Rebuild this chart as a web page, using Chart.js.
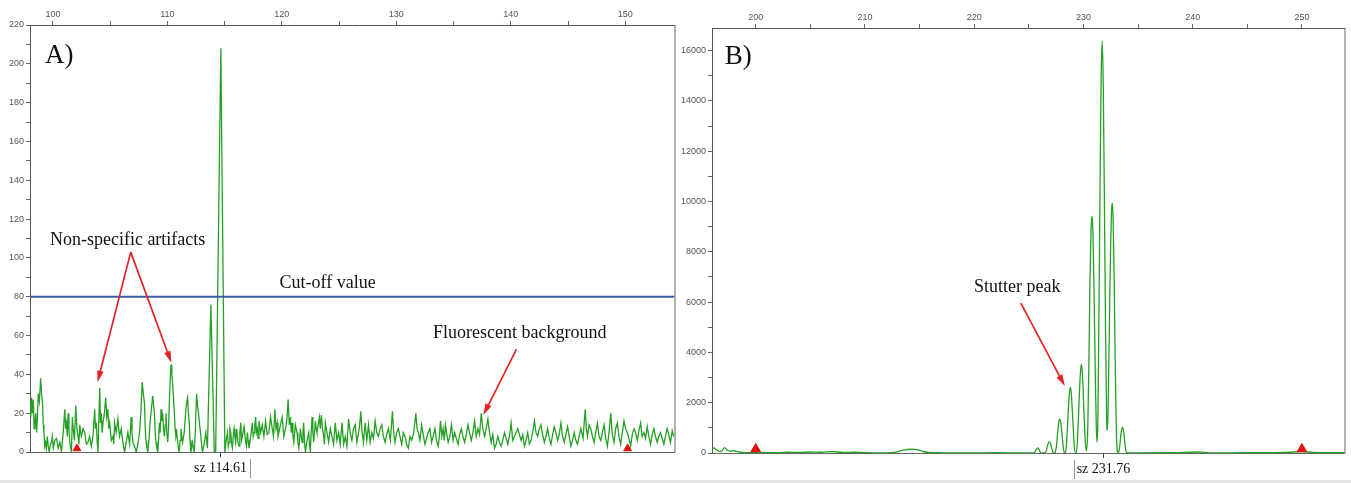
<!DOCTYPE html>
<html>
<head>
<meta charset="utf-8">
<script src="https://cdn.jsdelivr.net/npm/chart.js@4/dist/chart.umd.min.js"></script>
<style>
  body { margin: 0; background: #fff; }
  #wrap { position: relative; width: 1351px; height: 483px; overflow: hidden; }
  canvas { position: absolute; top: 0; }
  #chartA { left: 0; }
  #chartB { left: 680px; }
  #strip { position: absolute; left: 0; bottom: 0; width: 1351px; height: 3px; background: #e6e6e6; }
</style>
</head>
<body>
<div id="wrap">
  <canvas id="chartA" width="680" height="483"></canvas>
  <canvas id="chartB" width="671" height="483"></canvas>
  <div id="strip"></div>
</div>
<script>
// panel A: size (bp) and signal (RFU)
const aSizes = [
  98.00, 98.07, 98.14, 98.21, 98.29, 98.36, 98.43, 98.50, 98.58, 98.65,
  98.72, 98.82, 98.93, 99.01, 99.10, 99.16, 99.22, 99.29, 99.36, 99.43,
  99.51, 99.59, 99.68, 99.78, 99.88, 99.95, 100.03, 100.17, 100.32, 100.46,
  100.61, 100.68, 100.75, 100.90, 101.04, 101.11, 101.19, 101.26, 101.33, 101.40,
  101.48, 101.55, 101.62, 101.70, 101.77, 101.88, 102.00, 102.10, 102.20, 102.27,
  102.35, 102.42, 102.49, 102.63, 102.78, 102.92, 103.07, 103.21, 103.36, 103.50,
  103.65, 103.72, 103.80, 103.87, 103.94, 104.09, 104.16, 104.23, 104.30, 104.38,
  104.50, 104.61, 104.71, 104.81, 104.88, 104.96, 105.10, 105.25, 105.32, 105.39,
  105.53, 105.68, 105.75, 105.83, 105.97, 106.12, 106.19, 106.26, 106.40, 106.55,
  106.70, 106.84, 106.91, 106.99, 107.13, 107.28, 107.42, 107.57, 107.68, 107.80,
  107.90, 108.00, 108.07, 108.14, 108.21, 108.29, 108.39, 108.49, 108.60, 108.72,
  108.80, 108.87, 108.94, 109.01, 109.08, 109.16, 109.23, 109.30, 109.37, 109.45,
  109.52, 109.59, 109.66, 109.74, 109.81, 109.88, 109.95, 110.03, 110.10, 110.17,
  110.25, 110.32, 110.39, 110.46, 110.53, 110.61, 110.68, 110.75, 110.82, 110.90,
  110.97, 111.04, 111.11, 111.19, 111.26, 111.33, 111.47, 111.62, 111.70, 111.77,
  111.84, 111.91, 111.98, 112.06, 112.13, 112.20, 112.27, 112.35, 112.45, 112.55,
  112.63, 112.72, 112.82, 112.93, 113.00, 113.07, 113.20, 113.36, 113.50, 113.80,
  114.10, 114.22, 114.67, 115.02, 115.13, 115.25, 115.32, 115.39, 115.46, 115.54,
  115.61, 115.68, 115.75, 115.83, 115.90, 115.97, 116.05, 116.12, 116.19, 116.26,
  116.33, 116.41, 116.48, 116.55, 116.70, 116.84, 116.91, 116.99, 117.06, 117.13,
  117.28, 117.42, 117.50, 117.57, 117.64, 117.71, 117.78, 117.86, 117.93, 118.00,
  118.15, 118.29, 118.43, 118.58, 118.72, 118.87, 119.01, 119.16, 119.27, 119.39,
  119.49, 119.59, 119.66, 119.74, 119.88, 120.03, 120.17, 120.32, 120.43, 120.55,
  120.65, 120.75, 120.82, 120.90, 120.97, 121.04, 121.18, 121.33, 121.40, 121.48,
  121.55, 121.62, 121.70, 121.77, 121.84, 121.91, 121.98, 122.06, 122.20, 122.35,
  122.42, 122.49, 122.56, 122.64, 122.71, 122.78, 122.85, 122.93, 123.00, 123.07,
  123.17, 123.28, 123.36, 123.45, 123.55, 123.65, 123.72, 123.80, 123.94, 124.09,
  124.23, 124.38, 124.52, 124.67, 124.81, 124.96, 125.10, 125.25, 125.40, 125.54,
  125.68, 125.83, 125.97, 126.12, 126.26, 126.41, 126.55, 126.70, 126.80, 126.90,
  127.01, 127.13, 127.20, 127.28, 127.42, 127.57, 127.71, 127.86, 128.00, 128.15,
  128.29, 128.44, 128.58, 128.73, 128.87, 129.02, 129.16, 129.31, 129.48, 129.66,
  129.77, 129.89, 130.03, 130.18, 130.32, 130.47, 130.61, 130.76, 130.90, 131.05,
  131.19, 131.34, 131.52, 131.71, 131.81, 131.92, 132.06, 132.21, 132.35, 132.50,
  132.64, 132.79, 132.93, 133.08, 133.22, 133.37, 133.51, 133.66, 133.76, 133.86,
  133.97, 134.09, 134.19, 134.29, 134.41, 134.53, 134.67, 134.82, 134.96, 135.10,
  135.24, 135.39, 135.53, 135.68, 135.82, 135.97, 136.11, 136.26, 136.40, 136.55,
  136.69, 136.84, 136.98, 137.13, 137.27, 137.42, 137.56, 137.71, 137.85, 138.00,
  138.14, 138.29, 138.43, 138.58, 138.72, 138.87, 139.01, 139.16, 139.30, 139.45,
  139.59, 139.74, 139.88, 140.03, 140.17, 140.32, 140.46, 140.61, 140.75, 140.90,
  141.04, 141.19, 141.33, 141.48, 141.62, 141.77, 141.91, 142.06, 142.20, 142.35,
  142.49, 142.64, 142.78, 142.93, 143.07, 143.22, 143.36, 143.51, 143.65, 143.80,
  143.94, 144.09, 144.23, 144.38, 144.52, 144.67, 144.81, 144.96, 145.10, 145.25,
  145.39, 145.54, 145.68, 145.83, 145.97, 146.12, 146.31, 146.50, 146.60, 146.70,
  146.84, 146.99, 147.13, 147.28, 147.42, 147.57, 147.71, 147.86, 148.00, 148.15,
  148.29, 148.44, 148.58, 148.73, 148.87, 149.02, 149.16, 149.31, 149.45, 149.60,
  149.74, 149.89, 150.03, 150.18, 150.32, 150.47, 150.61, 150.76, 150.90, 151.05,
  151.19, 151.34, 151.48, 151.63, 151.77, 151.92, 152.06, 152.21, 152.35, 152.50,
  152.64, 152.79, 152.93, 153.08, 153.22, 153.37, 153.51, 153.66, 153.80, 153.95,
  154.10, 154.24
];
const aRfu = [
  25, 18, 28, 20, 27, 12, 15, 20, 10, 18,
  30, 26, 38, 30, 25, 14, 10, 3, 5, 2,
  8, 3, 0, 4, 5, 8, 2, 6, 7, 2,
  5, 3, 0, 10, 22, 12, 15, 8, 20, 12,
  5, 2, 0, 18, 12, 6, 24, 12, 8, 4,
  14, 10, 8, 12, 10, 4, 5, 8, 3, 8,
  22, 12, 15, 5, 0, 33, 15, 20, 10, 15,
  20, 28, 18, 22, 12, 15, 6, 8, 4, 15,
  10, 17, 12, 8, 12, 5, 2, 0, 5, 10,
  4, 18, 10, 5, 3, 0, 4, 10, 20, 36,
  30, 25, 12, 5, 2, 0, 6, 15, 22, 29,
  24, 20, 10, 5, 2, 0, 6, 15, 10, 22,
  16, 20, 12, 8, 14, 20, 10, 5, 12, 25,
  38, 45, 40, 35, 28, 20, 12, 8, 10, 5,
  2, 0, 6, 12, 8, 5, 10, 22, 26, 28,
  20, 15, 6, 0, 3, 5, 2, 0, 12, 30,
  24, 20, 14, 8, 3, 0, 4, 10, 2, 76,
  0, 0, 208, 0, 6, 10, 3, 5, 12, 10,
  4, 2, 8, 12, 8, 5, 12, 8, 4, 3,
  10, 15, 6, 8, 13, 5, 3, 10, 6, 2,
  8, 15, 8, 10, 14, 18, 10, 12, 7, 16,
  10, 14, 8, 16, 9, 10, 18, 12, 8, 22,
  12, 15, 8, 10, 14, 18, 8, 12, 16, 27,
  14, 18, 10, 15, 8, 5, 14, 10, 5, 2,
  6, 12, 8, 5, 10, 15, 5, 0, 6, 10,
  3, 0, 10, 18, 10, 5, 10, 16, 12, 10,
  14, 18, 12, 19, 12, 8, 4, 15, 10, 5,
  12, 8, 4, 15, 6, 10, 4, 15, 4, 8,
  3, 17, 10, 6, 12, 14, 5, 10, 14, 21,
  10, 5, 10, 15, 6, 14, 5, 10, 7, 16,
  10, 8, 12, 14, 8, 5, 9, 12, 6, 21,
  10, 5, 10, 12, 8, 4, 10, 8, 4, 2,
  8, 6, 10, 20, 12, 10, 6, 14, 9, 4,
  7, 10, 12, 5, 8, 12, 6, 3, 8, 16,
  8, 12, 6, 14, 9, 5, 8, 14, 6, 10,
  7, 4, 9, 12, 8, 5, 9, 14, 10, 6,
  10, 16, 8, 12, 9, 20, 12, 8, 12, 17,
  10, 5, 9, 2, 4, 8, 5, 3, 6, 10,
  7, 4, 8, 15, 6, 8, 10, 12, 9, 6,
  9, 3, 6, 10, 4, 6, 10, 16, 10, 8,
  12, 14, 9, 5, 8, 12, 7, 4, 9, 13,
  10, 6, 9, 15, 8, 5, 9, 13, 8, 3,
  6, 10, 6, 4, 8, 12, 7, 22, 12, 8,
  14, 12, 8, 5, 10, 15, 8, 6, 10, 14,
  7, 3, 10, 20, 9, 5, 12, 15, 8, 4,
  10, 16, 12, 10, 7, 3, 9, 12, 10, 6,
  11, 15, 8, 10, 7, 13, 8, 4, 9, 12,
  8, 5, 8, 10, 7, 4, 8, 12, 9, 5,
  11, 8
];
const aCutoff = 80;
const aMarkers = [102.1, 150.2];
const aXTicks = [100, 105, 110, 115, 120, 125, 130, 135, 140, 145, 150];
const aYTicks = [0, 10, 20, 30, 40, 50, 60, 70, 80, 90, 100, 110, 120, 130, 140, 150,
                 160, 170, 180, 190, 200, 210, 220];

// panel B: size (bp) and signal (RFU)
const bSizes = [
  196.0, 196.15, 196.45, 196.7, 196.9, 197.15, 197.4, 197.7, 198.0, 198.4,
  198.8, 199.2, 200.5, 202.0, 203.0, 204.0, 205.0, 206.0, 207.0, 208.0,
  209.0, 210.0, 212.0, 212.8, 213.5, 214.2, 214.8, 215.5, 216.5, 218.0,
  220.0, 222.0, 224.0, 225.5, 225.65, 225.82, 225.97, 226.12, 226.5, 226.62,
  226.76, 226.89, 227.0, 227.14, 227.28, 227.4, 227.5, 227.62, 227.73, 227.83,
  227.94, 228.05, 228.17, 228.28, 228.35, 228.45, 228.57, 228.69, 228.8, 228.91,
  229.03, 229.15, 229.27, 229.35, 229.45, 229.57, 229.7, 229.81, 229.93, 230.05,
  230.17, 230.29, 230.4, 230.5, 230.6, 230.7, 230.78, 230.87, 230.97, 231.08,
  231.18, 231.25, 231.33, 231.42, 231.52, 231.62, 231.72, 231.82, 231.92, 232.02,
  232.12, 232.2, 232.28, 232.38, 232.48, 232.57, 232.64, 232.72, 232.82, 232.92,
  233.02, 233.12, 233.2, 233.32, 233.45, 233.58, 233.7, 233.83, 233.95, 235.0,
  238.0, 240.6, 241.5, 245.0, 248.5, 250.0, 251.0, 253.9
];
const bRfu = [
  100, 200, 120, 60, 80, 210, 110, 70, 90, 50,
  20, 10, 20, 10, 30, 20, 40, 30, 60, 20,
  30, 10, 0, 30, 110, 150, 130, 40, 10, 0,
  0, 10, 0, 0, 110, 200, 110, 0, 0, 120,
  360, 440, 360, 120, 0, 0, 180, 700, 1180, 1350,
  1180, 700, 180, 0, 0, 350, 1300, 2250, 2620, 2250,
  1300, 350, 0, 0, 500, 1700, 3000, 3540, 3000, 1600,
  500, 80, 1000, 3600, 6800, 8900, 9420, 8800, 6500, 3300,
  1000, 420, 1500, 5500, 10500, 14800, 16380, 14500, 10000, 5200,
  1500, 900, 2200, 5200, 8000, 9600, 9940, 9300, 6800, 3300,
  800, 50, 0, 250, 800, 1030, 800, 250, 0, 0,
  10, 40, 0, 10, 20, 60, 20, 10
];
const bMarkers = [200, 250];
const bXTicks = [200, 205, 210, 215, 220, 225, 230, 235, 240, 245, 250];
const bYTicks = [0, 1000, 2000, 3000, 4000, 5000, 6000, 7000, 8000, 9000, 10000,
                 11000, 12000, 13000, 14000, 15000, 16000];

const tickFont = { family: 'Arial, "Liberation Sans"', size: 9 };
const noteFont = '18px "Liberation Serif", "Times New Roman", serif';

function drawArrow(ctx, x1, y1, x2, y2)
{
    const ang = Math.atan2(y2 - y1, x2 - x1);
    const head = 12;
    ctx.save();
    ctx.strokeStyle = '#e32424';
    ctx.fillStyle = '#e32424';
    ctx.lineWidth = 1.7;
    ctx.beginPath();
    ctx.moveTo(x1, y1);
    ctx.lineTo(x2 - Math.cos(ang) * head * 0.8, y2 - Math.sin(ang) * head * 0.8);
    ctx.stroke();
    ctx.beginPath();
    ctx.moveTo(x2, y2);
    ctx.lineTo(x2 - head * Math.cos(ang - 0.28), y2 - head * Math.sin(ang - 0.28));
    ctx.lineTo(x2 - head * Math.cos(ang + 0.28), y2 - head * Math.sin(ang + 0.28));
    ctx.closePath();
    ctx.fill();
    ctx.restore();
}

// annotations, frame and the "sz" cursor, anchored in data units
function notesPlugin(notes)
{
    return {
        id: 'notes',
        afterDraw(chart) {
            const ctx = chart.ctx;
            const xs = chart.scales.x, ys = chart.scales.y;
            const area = chart.chartArea;
            ctx.save();
            ctx.strokeStyle = '#666';
            ctx.lineWidth = 1;
            ctx.beginPath();
            ctx.moveTo(area.left, area.bottom + 0.5);
            ctx.lineTo(area.right + 0.5, area.bottom + 0.5);
            ctx.lineTo(area.right + 0.5, area.top);
            ctx.stroke();

            ctx.fillStyle = '#111';
            ctx.textBaseline = 'middle';
            ctx.font = '27px "Liberation Serif", "Times New Roman", serif';
            ctx.textAlign = 'left';
            ctx.fillText(notes.panel.text, xs.getPixelForValue(notes.panel.x), ys.getPixelForValue(notes.panel.y));

            ctx.font = noteFont;
            notes.texts.forEach(t => {
                ctx.textAlign = t.align;
                ctx.fillText(t.text, xs.getPixelForValue(t.x), ys.getPixelForValue(t.y));
            });
            notes.arrows.forEach(a => {
                drawArrow(ctx, xs.getPixelForValue(a[0]), ys.getPixelForValue(a[1]),
                               xs.getPixelForValue(a[2]), ys.getPixelForValue(a[3]));
            });

            const cx = Math.round(xs.getPixelForValue(notes.sz)) + 0.5;
            ctx.strokeStyle = '#444';
            ctx.beginPath();
            ctx.moveTo(cx, area.bottom);
            ctx.lineTo(cx, area.bottom + 5);
            ctx.stroke();
            ctx.font = '14px "Liberation Serif", "Times New Roman", serif';
            ctx.textAlign = 'center';
            const label = 'sz ' + notes.sz.toFixed(2);
            ctx.fillText(label, cx, area.bottom + 16);
            const w = ctx.measureText(label).width;
            const bx = Math.round(notes.barSide === 'right' ? cx + w / 2 + 3 : cx - w / 2 - 3) + 0.5;
            ctx.strokeStyle = '#999';
            ctx.beginPath();
            ctx.moveTo(bx, area.bottom + 7);
            ctx.lineTo(bx, area.bottom + 26);
            ctx.stroke();
            ctx.restore();
        }
    };
}

function createTraceChart(elementId, sizes, values, markers, markerLift, extraSets, axes, notes)
{
    const ctx = document.getElementById(elementId);
    const points = sizes.map((s, i) => ({ x: s, y: values[i] }));

    const datasets = [{
        data: points,
        borderColor: '#25a025',
        borderWidth: 1.3,
        pointRadius: 0,
        tension: axes.smooth ? 0.4 : 0,
        cubicInterpolationMode: axes.smooth ? 'monotone' : 'default',
        order: 2
    }].concat(extraSets, [{
        type: 'scatter',
        data: markers.map(m => ({ x: m, y: markerLift })),
        pointStyle: 'triangle',
        pointRadius: axes.markerRadius,
        backgroundColor: '#e01010',
        borderColor: '#e01010',
        clip: false,
        order: 0
    }]);

    new Chart(ctx, {
        type: 'line',
        data: { datasets: datasets },
        plugins: [notesPlugin(notes)],
        options: {
            responsive: false,
            animation: false,
            devicePixelRatio: 1,
            layout: { padding: axes.padding },
            plugins: { legend: { display: false }, tooltip: { enabled: false } },
            scales: {
                x: {
                    type: 'linear',
                    position: 'top',
                    min: axes.xMin,
                    max: axes.xMax,
                    afterBuildTicks: s => { s.ticks = axes.xTicks.map(v => ({ value: v })); },
                    ticks: {
                        autoSkip: false,
                        maxRotation: 0,
                        color: '#555',
                        font: tickFont,
                        padding: 1,
                        callback: v => (v % 10 === 0 ? v : '')
                    },
                    grid: { drawOnChartArea: false, tickLength: 4, color: '#666' },
                    border: { color: '#555' },
                    afterFit: s => { s.height = axes.top; }
                },
                y: {
                    min: 0,
                    max: axes.yMax,
                    afterBuildTicks: s => { s.ticks = axes.yTicks.map(v => ({ value: v })); },
                    ticks: {
                        autoSkip: false,
                        color: '#555',
                        font: tickFont,
                        padding: 2,
                        callback: v => (v % axes.yLabelEvery === 0 ? v : '')
                    },
                    grid: { drawOnChartArea: false, tickLength: 4, color: '#666' },
                    border: { color: '#555' },
                    afterFit: s => { s.width = axes.left; }
                }
            }
        }
    });
}

createTraceChart('chartA', aSizes, aRfu, aMarkers, 1.8, [{
        data: [{ x: 98, y: aCutoff }, { x: 154.3, y: aCutoff }],
        borderColor: '#3a5ca6',
        borderWidth: 2,
        pointRadius: 0,
        order: 1
    }],
    { xMin: 98, xMax: 154.3, yMax: 220, xTicks: aXTicks, yTicks: aYTicks, yLabelEvery: 20,
      left: 30, top: 25, padding: { left: 0, right: 3, top: 0, bottom: 31 },
      markerRadius: 4.5, smooth: false },
    {
        panel: { text: 'A)', x: 99.3, y: 204 },
        texts: [
            { text: 'Non-specific artifacts', x: 99.74, y: 109, align: 'left' },
            { text: 'Cut-off value', x: 124.0, y: 87, align: 'center' },
            { text: 'Fluorescent background', x: 133.2, y: 61, align: 'left' }
        ],
        arrows: [
            [106.8, 103, 103.9, 36],
            [106.8, 103, 110.35, 46],
            [140.5, 53, 137.6, 19]
        ],
        sz: 114.61,
        barSide: 'right'
    });

createTraceChart('chartB', bSizes, bRfu, bMarkers, 160, [],
    { xMin: 196, xMax: 253.9, yMax: 16900, xTicks: bXTicks, yTicks: bYTicks, yLabelEvery: 2000,
      left: 32, top: 28, padding: { left: 0, right: 4, top: 0, bottom: 30 },
      markerRadius: 5.5, smooth: true },
    {
        panel: { text: 'B)', x: 197.17, y: 15750 },
        texts: [
            { text: 'Stutter peak', x: 219.98, y: 6600, align: 'left' }
        ],
        arrows: [
            [224.27, 5960, 228.3, 2660]
        ],
        sz: 231.76,
        barSide: 'left'
    });
</script>
</body>
</html>
